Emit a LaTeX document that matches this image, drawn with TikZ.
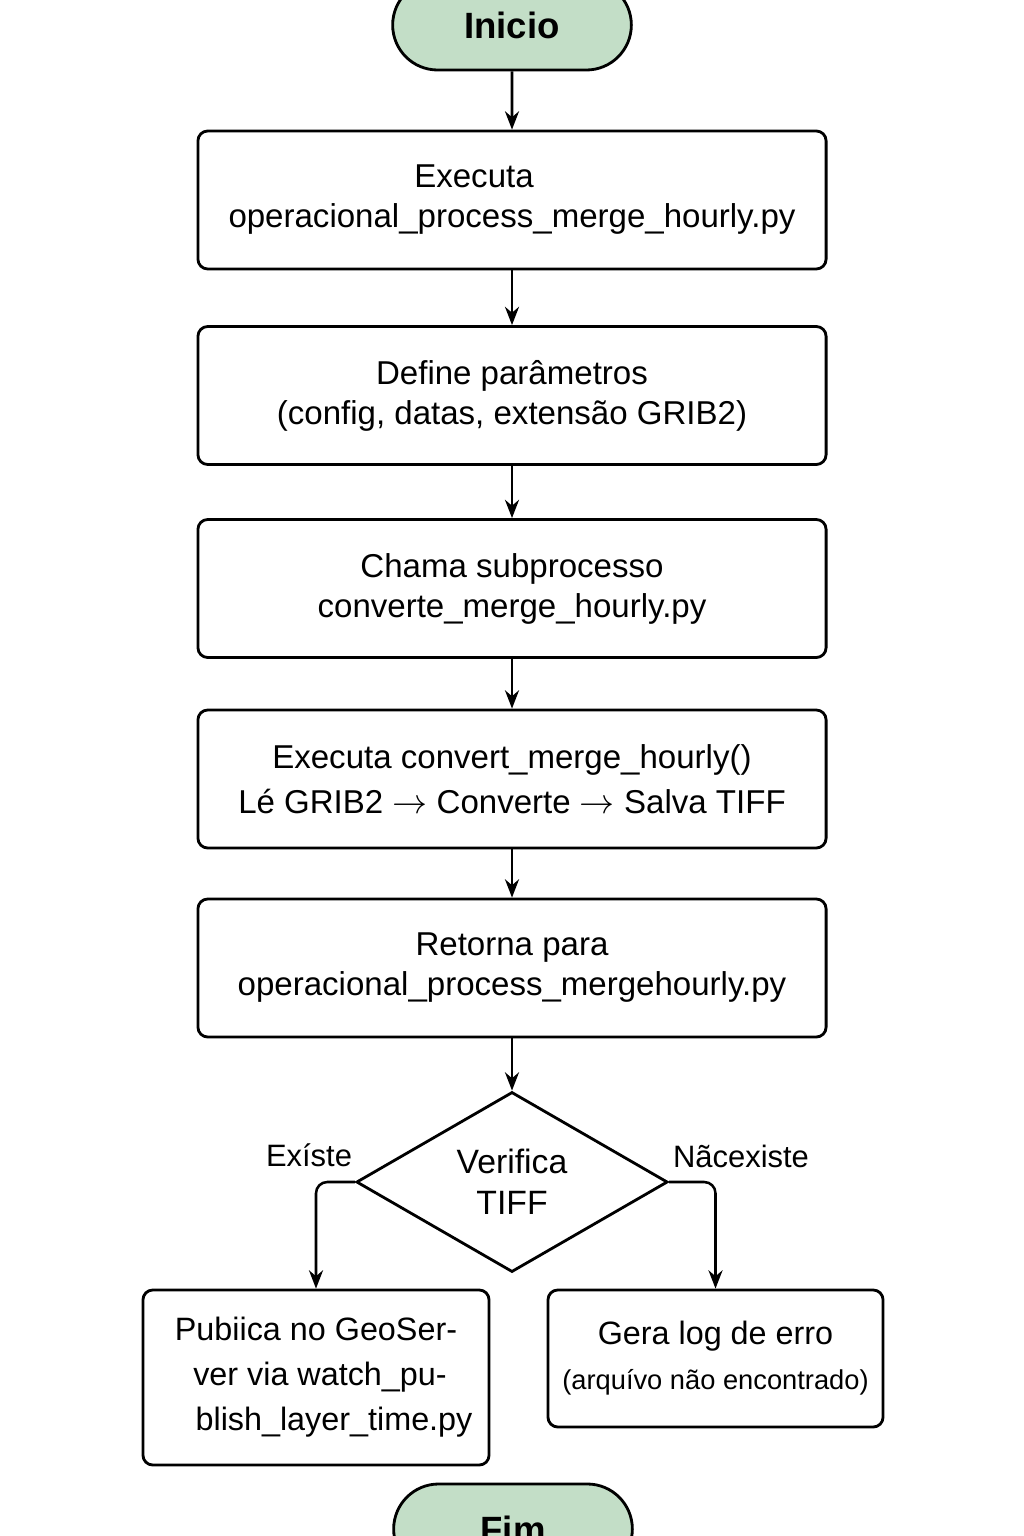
\documentclass[tikz,border=0pt]{standalone}
\usepackage{fontspec}
\setmainfont{Liberation Sans}
\usepackage{xcolor}
\usetikzlibrary{shapes,arrows.meta,positioning,calc}
\definecolor{termgreen}{HTML}{C3DEC7}

\tikzset{
    box/.style={draw, line width=2pt, rounded corners=7pt, align=center,
        minimum width=15.7cm, minimum height=3.45cm, inner sep=2pt,
        font=\fontsize{23.5}{28.5}\selectfont},
    term/.style={draw, line width=2pt, rounded rectangle, fill=termgreen,
        minimum width=6.2cm, minimum height=2.25cm,
        font=\fontsize{26}{30}\selectfont\bfseries},
    arr/.style={line width=1.8pt, -{Stealth[length=13pt,width=10pt]}},
    lbl/.style={font=\fontsize{22}{26}\selectfont}
}

\begin{document}
\begin{tikzpicture}[x=0.025cm, y=-0.025cm]
    \useasboundingbox (0,0) rectangle (1024,1536);

    % Terminals
    \node[term] (ini) at (512,25) {Inicio};
    \node[term] (fim) at (513,1529) {Fim};

    % Steps
    \node[box] (exe) at (512,200) {Executa\hspace*{1.9cm}\\operacional\_process\_merge\_hourly.py};
    \node[box] (def) at (512,395.5) {Define parâmetros\\(config, datas, extensão GRIB2)};
    \node[box] (cha) at (512,588.5) {Chama subprocesso\\converte\_merge\_hourly.py};
    \node[box, font=\fontsize{23.5}{32}\selectfont] (cnv) at (512,779) {Executa convert\_merge\_hourly()\\Lé GRIB2 $\rightarrow$ Converte $\rightarrow$ Salva TIFF};
    \node[box] (ret) at (512,968) {Retorna para\\operacional\_process\_mergehourly.py};

    % Decision
    \node[draw, line width=2pt, diamond, aspect=1.73, inner sep=0pt,
        minimum width=7.78cm, minimum height=4.5cm, align=center,
        font=\fontsize{24}{29}\selectfont] (ver) at (512,1182) {Verifica\\TIFF};

    % Branches
    \node[box, minimum width=8.65cm, minimum height=4.375cm,
        font=\fontsize{23}{32}\selectfont] (pub) at (316,1377.5)
        {Pubiica no GeoSer-\\\hspace*{0.2cm}ver via watch\_pu-\\\hspace*{0.9cm}blish\_layer\_time.py};
    \node[box, minimum width=8.375cm, minimum height=3.425cm,
        font=\fontsize{23}{32}\selectfont] (log) at (715.5,1358.5)
        {Gera log de erro\\{\fontsize{19.4}{22}\selectfont (arquívo não encontrado)}};

    % Connectors
    \draw[arr] (ini) -- (exe);
    \draw[arr] (exe) -- (def);
    \draw[arr] (def) -- (cha);
    \draw[arr] (cha) -- (cnv);
    \draw[arr] (cnv) -- (ret);
    \draw[arr] (ret) -- (ver);
    \draw[arr, rounded corners=8pt] (ver.west) -| (pub.north);
    \draw[arr, rounded corners=8pt] (ver.east) -| (log.north);

    \node[lbl] (sim) at (309,1155) {Exíste};
    \node[lbl] (nao) at (741,1156) {Nãcexiste};
\end{tikzpicture}
\end{document}
